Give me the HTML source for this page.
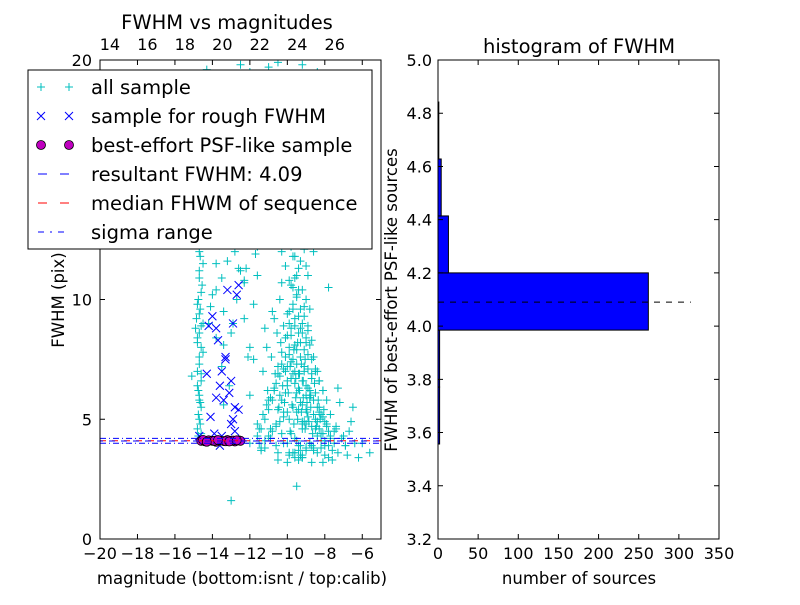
<!DOCTYPE html>
<html><head><meta charset="utf-8"><style>
body{margin:0;background:#fff;font-family:"Liberation Sans","DejaVu Sans",sans-serif}
svg text{font-family:"DejaVu Sans","Liberation Sans",sans-serif}
</style></head><body>
<svg id="c" width="800" height="600" xmlns="http://www.w3.org/2000/svg">
<rect width="800" height="600" fill="#fff"/>
<g id="left"></g>
<g id="right"></g>
</svg>
<script>
// ---- data ----
const allMag=[-14.8,-14.7,-14.6,-14.7,-14.8,-14.6,-14.7,-14.5,-14.8,-14.7,-14.6,-14.7,-14.8,-14.6,-14.7,-14.5,-14.7,-14.6,-14.8,-14.7,-14.9,-14.6,-14.7,-14.8,-15.1,-14.7,-14.6,
-14.2,-14.0,-13.8,-13.6,-13.4,-13.2,-13.9,-13.5,-13.0,-12.8,-13.7,-14.1,-13.3,-12.6,-12.9,-13.1,-13.6,-14.3,-12.7,-13.8,-12.5,-13.4,-12.2,-12.4,-12.0,-12.3,-11.8,-12.1,-11.6,
-11.4,-11.2,-11.0,-10.8,-10.6,-10.4,-10.2,-10.0,-9.8,-9.6,-9.4,-9.2,-9.0,-8.8,-8.6,-8.4,-8.2,-8.0,-7.8,
-11.3,-11.1,-10.9,-10.7,-10.5,-10.3,-10.1,-9.9,-9.7,-9.5,-9.3,-9.1,-8.9,-8.7,-8.5,-8.3,-8.1,-7.9,-7.7,-7.5,
-10.6,-10.4,-10.2,-10.0,-9.8,-9.6,-9.4,-9.2,-9.0,-8.8,-8.6,-8.4,-8.2,-8.0,
-10.3,-10.1,-9.9,-9.7,-9.5,-9.3,-9.1,-8.9,-8.7,-8.5,-8.3,-8.1,
-10.0,-9.8,-9.6,-9.4,-9.2,-9.0,-8.8,-8.6,-8.4,
-9.9,-9.7,-9.5,-9.3,-9.1,-8.9,-8.7,
-9.8,-9.6,-9.4,-9.2,-9.0,-8.8,
-9.7,-9.5,-9.3,-9.1,-8.9,-9.6,-9.4,-9.2,-9.0,
-10.2,-9.9,-9.6,-9.3,-9.0,-8.7,-10.5,-10.0,-9.5,-9.2,
-11.5,-11.0,-10.5,-11.8,-11.2,-10.8,-10.3,-11.6,-12.2,-11.9,
-7.2,-7.0,-6.8,-6.5,-6.2,-5.6,-7.4,-6.9,-6.6,-7.6,-8.1,-7.3,-6.0,
-9.5,-9.0,-8.5,-10.0,-9.2,-8.8,-8.3,-9.8,
-10.8,-10.2,-9.4,-8.6,-11.2,-9.9,-8.9,-12.5,
-10.5,-11.0,-9.8,-9.2,-8.4,-7.8,-10.1,-12.3,-11.7,-9.0,-13.0,-12.0,-11.4];
const allFwhm=[4.6,5.0,5.5,6.0,6.4,6.9,7.3,7.8,8.2,8.6,8.9,9.4,9.8,10.3,10.9,11.5,12.0,12.6,13.2,11.2,13.6,14.2,15.0,16.0,6.8,5.8,4.4,
9.0,10.2,11.5,12.4,8.1,13.0,14.8,7.2,15.5,12.0,16.5,9.7,17.2,11.3,9.0,6.4,18.0,19.6,13.8,8.4,19.8,5.6,17.6,14.8,6.0,10.8,19.2,7.6,4.8,
3.8,4.1,4.3,4.5,4.7,4.9,5.1,5.3,4.4,4.2,3.9,4.6,4.8,4.0,3.8,4.3,4.1,3.9,4.5,
5.2,5.6,5.9,6.2,5.4,5.8,6.1,5.0,5.5,5.3,5.7,4.9,5.1,4.7,5.0,4.6,4.4,4.8,4.2,4.5,
6.5,6.8,7.1,6.4,6.7,7.0,6.3,6.6,6.0,6.2,5.8,5.5,5.2,4.9,
7.3,7.6,8.0,7.5,7.9,8.2,7.2,7.7,6.9,7.1,6.6,6.2,
8.5,8.8,9.2,8.6,9.0,8.4,8.1,7.6,7.0,
9.5,9.8,10.2,9.6,9.3,8.9,8.3,
10.6,10.9,11.3,10.4,10.0,9.6,
11.8,12.4,11.6,12.1,11.0,3.6,3.7,3.5,3.8,
4.0,3.6,3.4,3.5,3.7,3.9,3.3,3.2,2.2,3.4,
4.6,5.8,6.9,7.5,8.8,9.5,10.7,12.2,11.3,13.6,
5.7,4.3,3.5,5.5,3.4,3.6,4.7,3.9,4.9,3.3,3.2,6.3,4.0,
6.1,5.4,4.6,7.2,4.8,5.9,5.3,6.7,
13.0,14.2,15.6,16.3,17.4,18.8,12.5,19.4,
19.9,19.7,19.3,19.8,19.5,19.2,12.8,10.7,11.9,14.5,1.6,4.0,3.7];
// extra sources read from the dense cluster, [magnitude, fwhm]
const clusterPts=[[-11.6,4.3],[-11.4,4.6],[-11.2,5.0],[-11.0,5.4],[-10.9,4.2],[-10.8,5.8],[-10.7,6.3],[-10.6,4.8],[-10.5,7.2],[-10.4,6.0],
[-10.3,7.8],[-10.2,5.3],[-10.1,8.4],[-10.0,6.6],[-9.9,9.0],[-9.8,7.4],[-9.7,9.6],[-9.6,8.1],[-9.5,10.1],[-9.4,6.9],
[-9.3,8.8],[-9.2,5.6],[-9.1,7.9],[-9.0,6.4],[-8.9,7.1],[-8.8,5.9],[-8.7,6.7],[-8.6,5.2],[-8.5,6.1],[-8.4,4.9],
[-8.3,5.5],[-8.2,4.4],[-8.1,5.1],[-8.0,4.1],[-7.9,4.7],[-7.8,3.9],[-7.7,4.3],[-7.6,3.7],[-7.5,4.0],[-7.3,3.6],
[-9.85,4.5],[-9.65,4.8],[-9.45,5.0],[-9.25,5.3],[-9.05,4.6],[-8.85,4.9],[-8.65,4.4],[-8.45,4.7],[-8.25,5.0],[-8.05,5.4],
[-9.75,5.6],[-9.55,5.9],[-9.35,6.2],[-9.15,6.6],[-8.95,5.7],[-8.75,6.0],[-8.55,6.5],[-8.35,5.8],[-9.95,6.1],[-10.15,5.7],
[-9.7,6.9],[-9.5,7.3],[-9.3,7.6],[-9.1,7.0],[-8.9,6.3],[-9.9,7.7],[-10.1,7.0],[-9.6,6.5],[-9.4,5.4],[-9.2,4.9],
[-9.8,8.5],[-9.6,8.9],[-9.4,9.3],[-9.2,8.6],[-10.0,9.4],[-10.2,8.9],[-9.0,8.2],[-9.7,10.5],[-9.9,10.8],[-9.5,11.0],
[-10.1,11.4],[-9.6,11.8],[-9.8,12.2],[-10.3,12.0],[-9.4,10.4],[-10.4,10.0],[-9.1,9.7],[-8.9,8.7],[-8.7,7.5],[-8.5,7.0],
[-8.3,6.6],[-8.1,6.2],[-7.9,5.8],[-7.7,5.2],[-8.8,4.0],[-9.0,3.8],[-9.3,3.9],[-8.6,3.7],[-9.5,4.1],[-9.7,3.6],
[-10.0,4.0],[-10.3,4.4],[-10.6,3.9],[-10.9,4.6],[-11.2,3.8],[-11.5,4.0],[-8.4,3.6],[-8.2,3.8],[-8.0,3.5],[-7.8,3.4],
[-9.2,3.4],[-9.4,3.3],[-8.7,3.2],[-9.9,3.5],[-10.5,3.6],[-7.4,4.6],[-7.1,4.2],[-6.9,3.9],[-6.7,4.5],[-6.4,4.0],
[-9.65,7.9],[-9.45,8.2],[-9.25,7.3],[-9.05,7.5],[-9.85,7.2],[-9.55,6.7],[-9.35,6.9],[-9.15,5.9],[-8.95,5.3],[-8.75,5.5],
[-10.25,6.4],[-10.45,5.5],[-10.65,6.9],[-10.85,7.6],[-11.05,6.2],[-10.35,8.2],[-10.55,8.6],[-11.3,7.0],[-11.1,8.0],[-10.7,9.2],
[-10.0,13.0],[-10.5,13.8],[-9.3,12.8],[-11.0,12.5],[-9.0,11.4],[-8.6,12.0],[-9.2,14.2],[-8.3,13.0],[-7.8,10.5],[-7.2,12.4],
[-14.75,4.3],[-14.65,4.8],[-14.75,5.2],[-14.65,5.7],[-14.75,6.2],[-14.6,6.6],[-14.8,7.0],[-14.7,7.6],[-14.6,8.0],[-14.8,8.4],
[-14.9,8.8],[-14.5,9.0],[-14.85,9.2],[-14.65,9.6],[-14.75,10.0],[-14.55,10.6],[-14.65,11.8],[-14.7,12.3],[-14.85,12.9],[-14.6,13.8],
[-13.8,10.4],[-13.5,10.9],[-13.2,11.6],[-12.9,12.8],[-13.7,13.5],[-13.4,9.5],[-13.0,8.6],[-12.7,10.0],[-12.5,11.2],[-13.6,14.6],
[-12.3,9.2],[-12.0,8.0],[-11.8,9.8],[-11.6,11.0],[-12.1,12.6],[-13.3,15.8],[-12.4,16.8],[-12.8,18.4],[-11.5,14.0],[-11.2,15.2],
[-10.8,16.0],[-10.4,17.2],[-9.6,18.6],[-9.0,17.6],[-8.5,16.4],[-10.9,18.8],[-12.0,19.5],[-13.9,19.3],[-11.3,13.2],[-13.1,13.9]];
const roughMag=[-14.7,-14.3,-14.0,-13.8,-13.7,-13.5,-13.3,-13.2,-13.0,-12.9,-12.8,-13.6,-13.4,-13.1,-12.6,-14.1,-13.9,-12.7,-13.3,-13.0,-12.8,-12.9,-13.5,-13.8,-12.6,-14.2,-13.6];
const roughFwhm=[4.3,6.9,9.3,8.8,8.3,7.0,7.5,10.4,6.6,5.0,4.5,3.9,5.8,6.1,5.4,5.1,4.4,10.2,7.6,4.8,5.5,9.0,4.3,5.9,10.6,8.9,6.4];
const psfMag=[-14.6,-14.4,-14.2,-14.0,-13.8,-13.6,-13.4,-13.2,-13.0,-12.8,-12.6,-12.5,-14.5,-13.9,-13.3,-12.9,-14.3,-13.7,-13.1,-12.7];
const psfFwhm=[4.1,4.08,4.12,4.1,4.06,4.11,4.09,4.13,4.1,4.07,4.12,4.1,4.14,4.1,4.08,4.11,4.06,4.13,4.07,4.12];
const resultFwhm=4.09, medianFwhm=4.1, sigmaLo=4.0, sigmaHi=4.2;
const binEdges=[3.557,3.771,3.985,4.2,4.414,4.628,4.842];
const binCounts=[2,2,262,13,4,1];
const xTicks=[-20,-18,-16,-14,-12,-10,-8,-6];
const topTicks=[14,16,18,20,22,24,26];
const yTicks=[0,5,10,20];
const hxTicks=[0,50,100,150,200,250,300,350];
const hyTicks=[3.2,3.4,3.6,3.8,4.0,4.2,4.4,4.6,4.8,5.0];
// ---- scales ----
const NS="http://www.w3.org/2000/svg";
const L={x0:100,x1:381,y0:60,y1:539,mn:-20,mx:-5,fn:0,fx:20};
const calibOffset=33.47;
const sx=m=>L.x0+(m-L.mn)/(L.mx-L.mn)*(L.x1-L.x0);
const sy=f=>L.y1-(f-L.fn)/(L.fx-L.fn)*(L.y1-L.y0);
const R={x0:438,x1:719,y0:60,y1:539,cn:0,cx:350,fn:3.2,fx:5.0};
const hx=c=>R.x0+(c-R.cn)/(R.cx-R.cn)*(R.x1-R.x0);
const hy=f=>R.y1-(f-R.fn)/(R.fx-R.fn)*(R.y1-R.y0);
function mk(p,tag,a,txt){const e=document.createElementNS(NS,tag);for(const k in a)e.setAttribute(k,a[k]);if(txt!==undefined)e.textContent=txt;p.appendChild(e);return e;}
const left=document.getElementById('left'),right=document.getElementById('right');
const defs=mk(left,'defs',{});const cp=mk(defs,'clipPath',{id:'lc'});mk(cp,'rect',{x:L.x0,y:L.y0,width:L.x1-L.x0,height:L.y1-L.y0});
const pts=mk(left,'g',{'clip-path':'url(#lc)'});
function plus(m,f){const x=sx(m),y=sy(f);
 const e=mk(pts,'path',{d:`M${x-4},${y}h8M${x},${y-4}v8`,stroke:'#00bfbf','stroke-width':1});
 
 }
for(let i=0;i<allMag.length;i++)plus(allMag[i],allFwhm[i]);
for(const p of clusterPts)plus(p[0],p[1]);
for(let i=0;i<roughMag.length;i++){const x=sx(roughMag[i]),y=sy(roughFwhm[i]);
 const e=mk(pts,'path',{d:`M${x-4},${y-4}l8,8M${x-4},${y+4}l8,-8`,stroke:'#00f','stroke-width':1});
 
 }
for(let i=0;i<psfMag.length;i++){const e=mk(pts,'circle',{cx:sx(psfMag[i]),cy:sy(psfFwhm[i]),r:4.5,fill:'#bf00bf',stroke:'#000','stroke-width':0.8});
 
 }
let e;
e=mk(pts,'line',{x1:L.x0,x2:L.x1,y1:sy(medianFwhm),y2:sy(medianFwhm),stroke:'#f00','stroke-dasharray':'6,6'});

e=mk(pts,'line',{x1:L.x0,x2:L.x1,y1:sy(resultFwhm),y2:sy(resultFwhm),stroke:'#00f','stroke-dasharray':'6,6','stroke-dashoffset':3});

for(const s of [sigmaLo,sigmaHi]){e=mk(pts,'line',{x1:L.x0,x2:L.x1,y1:sy(s),y2:sy(s),stroke:'#00f','stroke-dasharray':'6,3,1,3'});
}
mk(left,'rect',{x:L.x0,y:L.y0,width:L.x1-L.x0,height:L.y1-L.y0,fill:'none',stroke:'#000'});
for(const t of xTicks){const x=sx(t);mk(left,'path',{d:`M${x},${L.y1}v-5M${x},${L.y0}v5`,stroke:'#000'});
 e=mk(left,'text',{x:x,y:L.y1+20,'text-anchor':'middle','font-size':16},(t<0?'\u2212'+(-t):t));
 }
for(const t of topTicks){const x=sx(t-calibOffset);
 e=mk(left,'text',{x:x,y:L.y0-10,'text-anchor':'middle','font-size':16},t);
 }
for(const t of yTicks){const y=sy(t);mk(left,'path',{d:`M${L.x0},${y}h5M${L.x1},${y}h-5`,stroke:'#000'});
 e=mk(left,'text',{x:L.x0-8,y:y+6,'text-anchor':'end','font-size':16},t);
 }
e=mk(left,'text',{x:227,y:29,'text-anchor':'middle','font-size':19.5},'FWHM vs magnitudes');
e=mk(left,'text',{x:242,y:584,'text-anchor':'middle','font-size':16.5},'magnitude (bottom:isnt / top:calib)');
e=mk(left,'text',{x:0,y:0,'text-anchor':'middle','font-size':16.5,transform:'translate(64,300) rotate(-90)'},'FWHM (pix)');
// legend
const lg=mk(left,'g',{});
mk(lg,'rect',{x:28,y:70,width:344,height:179,fill:'#fff',stroke:'#000'});
const items=[['all sample','plus'],['sample for rough FWHM','x'],['best-effort PSF-like sample','o'],['resultant FWHM: 4.09','db'],['median FHWM of sequence','dr'],['sigma range','dd']];
items.forEach((it,i)=>{const y=87+i*29;
 for(const x of [41,69]){
  if(it[1]=='plus')mk(lg,'path',{d:`M${x-4},${y}h8M${x},${y-4}v8`,stroke:'#00bfbf'});
  if(it[1]=='x')mk(lg,'path',{d:`M${x-4},${y-4}l8,8M${x-4},${y+4}l8,-8`,stroke:'#00f'});
  if(it[1]=='o')mk(lg,'circle',{cx:x,cy:y,r:4.5,fill:'#bf00bf',stroke:'#000','stroke-width':0.8});}
 if(it[1]=='db')mk(lg,'path',{d:`M38,${y}h9M60,${y}h9`,stroke:'#00f'});
 if(it[1]=='dr')mk(lg,'path',{d:`M38,${y}h9M60,${y}h9`,stroke:'#f00'});
 if(it[1]=='dd')mk(lg,'path',{d:`M38,${y}h6M50,${y}h2M58,${y}h6`,stroke:'#00f'});
 const t=mk(lg,'text',{x:91,y:y+7,'font-size':19.5},it[0]);
 
 });
// histogram
for(let i=0;i<binCounts.length;i++){const y0=hy(binEdges[i+1]),y1=hy(binEdges[i]);
 e=mk(right,'rect',{x:hx(0),y:y0,width:hx(binCounts[i])-hx(0),height:y1-y0,fill:'#00f',stroke:'#000','stroke-width':1});
 }
e=mk(right,'line',{x1:hx(0),x2:hx(315),y1:hy(resultFwhm),y2:hy(resultFwhm),stroke:'#000','stroke-dasharray':'6,6'});

mk(right,'rect',{x:R.x0,y:R.y0,width:R.x1-R.x0,height:R.y1-R.y0,fill:'none',stroke:'#000'});
for(const t of hxTicks){const x=hx(t);mk(right,'path',{d:`M${x},${R.y1}v-5M${x},${R.y0}v5`,stroke:'#000'});
 e=mk(right,'text',{x:x,y:R.y1+20,'text-anchor':'middle','font-size':16},t);
 }
for(const t of hyTicks){const y=hy(t);mk(right,'path',{d:`M${R.x0},${y}h5M${R.x1},${y}h-5`,stroke:'#000'});
 e=mk(right,'text',{x:R.x0-6,y:y+6,'text-anchor':'end','font-size':16},t.toFixed(1));
 }
e=mk(right,'text',{x:579,y:53,'text-anchor':'middle','font-size':19.5},'histogram of FWHM');
e=mk(right,'text',{x:579,y:584,'text-anchor':'middle','font-size':16.5},'number of sources');
e=mk(right,'text',{x:0,y:0,'text-anchor':'middle','font-size':16.5,transform:'translate(397,300) rotate(-90)'},'FWHM of best-effort PSF-like sources');
</script>
</body></html>
